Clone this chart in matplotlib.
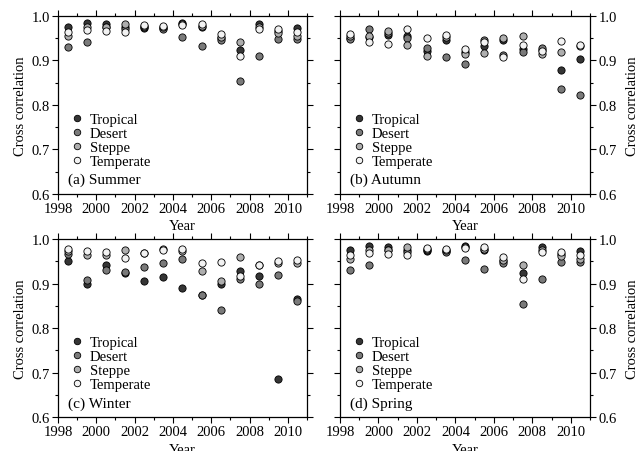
import matplotlib.pyplot as plt
import numpy as np
from matplotlib.ticker import MultipleLocator

plt.rcParams['font.family'] = ['Liberation Serif', 'DejaVu Serif']
plt.rcParams['font.size'] = 10.5

# years at mid-year
years = [1998.5, 1999.5, 2000.5, 2001.5, 2002.5, 2003.5, 2004.5,
         2005.5, 2006.5, 2007.5, 2008.5, 2009.5, 2010.5]

# summer
summer_tropical = [0.975, 0.984, 0.982, 0.975, 0.974, 0.972, 0.984, 0.976, 0.950, 0.924, 0.982, 0.966, 0.972]
summer_desert = [0.931, 0.941, 0.975, 0.970, 0.975, 0.970, 0.952, 0.933, 0.945, 0.854, 0.911, 0.949, 0.948]
summer_steppe = [0.956, 0.976, 0.975, 0.982, 0.978, 0.975, 0.982, 0.978, 0.953, 0.942, 0.976, 0.962, 0.954]
summer_temperate = [0.964, 0.969, 0.967, 0.963, 0.980, 0.978, 0.980, 0.981, 0.960, 0.911, 0.971, 0.971, 0.963]

# autumn
autumn_tropical = [0.950, 0.953, 0.958, 0.955, 0.922, 0.945, 0.920, 0.932, 0.946, 0.925, 0.924, 0.879, 0.903]
autumn_desert = [0.948, 0.970, 0.962, 0.950, 0.927, 0.907, 0.891, 0.947, 0.913, 0.918, 0.928, 0.835, 0.822]
autumn_steppe = [0.955, 0.956, 0.967, 0.935, 0.909, 0.952, 0.915, 0.917, 0.951, 0.954, 0.915, 0.919, 0.933]
autumn_temperate = [0.960, 0.941, 0.937, 0.970, 0.951, 0.957, 0.925, 0.941, 0.908, 0.935, 0.921, 0.944, 0.935]

# winter
winter_tropical = [0.951, 0.900, 0.941, 0.923, 0.906, 0.914, 0.890, 0.874, 0.899, 0.929, 0.917, 0.685, 0.866]
winter_desert = [0.966, 0.907, 0.930, 0.925, 0.936, 0.945, 0.954, 0.874, 0.840, 0.911, 0.898, 0.920, 0.860]
winter_steppe = [0.972, 0.965, 0.963, 0.976, 0.968, 0.978, 0.972, 0.927, 0.906, 0.959, 0.942, 0.946, 0.945]
winter_temperate = [0.978, 0.972, 0.971, 0.957, 0.968, 0.975, 0.978, 0.947, 0.948, 0.918, 0.942, 0.951, 0.952]

# spring (looks the same as summer in the picture)
spring_tropical = [0.975, 0.984, 0.982, 0.975, 0.974, 0.972, 0.984, 0.976, 0.950, 0.924, 0.982, 0.966, 0.972]
spring_desert = [0.931, 0.941, 0.975, 0.970, 0.975, 0.970, 0.952, 0.933, 0.945, 0.854, 0.911, 0.949, 0.948]
spring_steppe = [0.956, 0.976, 0.975, 0.982, 0.978, 0.975, 0.982, 0.978, 0.953, 0.942, 0.976, 0.962, 0.954]
spring_temperate = [0.964, 0.969, 0.967, 0.963, 0.980, 0.978, 0.980, 0.981, 0.960, 0.911, 0.971, 0.971, 0.963]

names = ['Tropical', 'Desert', 'Steppe', 'Temperate']
colors = ['#353535', '#7a7a7a', '#aeaeae', '#f2f2f2']

panels = [
    ('(a) Summer', [summer_tropical, summer_desert, summer_steppe, summer_temperate]),
    ('(b) Autumn', [autumn_tropical, autumn_desert, autumn_steppe, autumn_temperate]),
    ('(c) Winter', [winter_tropical, winter_desert, winter_steppe, winter_temperate]),
    ('(d) Spring', [spring_tropical, spring_desert, spring_steppe, spring_temperate]),
]

# axes boxes in figure fraction [left, bottom, width, height]
boxes = [
    [0.0902, 0.5686, 0.3872, 0.3938],
    [0.5288, 0.5686, 0.3888, 0.3938],
    [0.0902, 0.0752, 0.3872, 0.3938],
    [0.5288, 0.0752, 0.3888, 0.3938],
]

fig = plt.figure(figsize=(6.43, 4.52), dpi=100)

for k, (title, series) in enumerate(panels):
    ax = fig.add_axes(boxes[k])
    for vals, nm, c in zip(series, names, colors):
        ax.plot(years, vals, 'o', ms=5.2, mfc=c, mec='black', mew=0.6, label=nm)

    ax.set_xlim(1998, 2011)
    ax.set_ylim(0.6, 1.0)
    ax.xaxis.set_major_locator(MultipleLocator(2))
    ax.xaxis.set_minor_locator(MultipleLocator(1))
    ax.yaxis.set_major_locator(MultipleLocator(0.1))
    ax.yaxis.set_minor_locator(MultipleLocator(0.05))
    ax.yaxis.set_major_formatter(plt.FormatStrFormatter('%.1f'))
    ax.tick_params(which='both', direction='out', top=True, right=True, width=0.8)
    ax.tick_params(which='major', length=4, pad=2)
    ax.tick_params(which='minor', length=2.5)
    for s in ax.spines.values():
        s.set_linewidth(0.9)

    ax.set_xlabel('Year', labelpad=3)
    if k % 2 == 0:
        ax.set_ylabel('Cross correlation', labelpad=3)
    else:
        ax.yaxis.set_label_position('right')
        ax.tick_params(axis='y', which='both', labelleft=False, labelright=True)
        ax.set_ylabel('Cross correlation', labelpad=7)

    ax.legend(loc='lower left', bbox_to_anchor=(0.02, 0.105), frameon=False,
              handlelength=0.9, handletextpad=0.45, labelspacing=0.05,
              borderpad=0, markerscale=0.9, fontsize=10.5)
    ax.text(0.04, 0.08, title, transform=ax.transAxes, fontsize=11,
            ha='left', va='center')

fig.savefig('out.png', dpi=100)
